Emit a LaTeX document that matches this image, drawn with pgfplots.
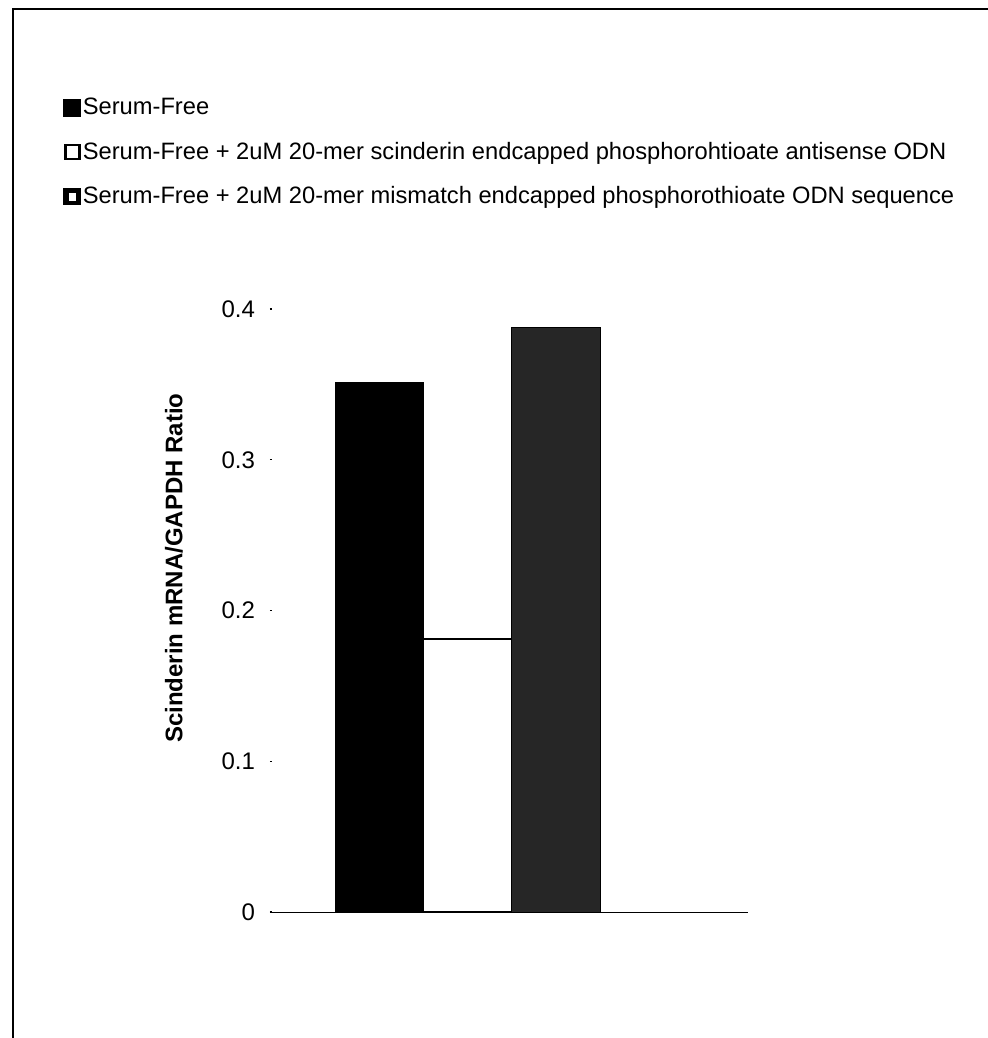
\documentclass[border=0pt]{standalone}
\usepackage{pgfplots}
\pgfplotsset{compat=1.18}
\usepackage{fontspec}
\setmainfont{Liberation Sans}
\begin{document}
\begin{tikzpicture}[x=1pt,y=1pt]
% page = 988 x 1038 px at 0.5pt/px; axis origin at pixel (270,912)
\path[use as bounding box] (-135,-63) rectangle (359,456);
\draw[line width=1.1pt] (-128.5,-63) -- (-128.5,451.5) -- (359,451.5);
\begin{axis}[
  at={(0,0)}, anchor=south west,
  scale only axis, width=239pt, height=301.5pt,
  xmin=-1.236, xmax=4.175,
  ymin=0, ymax=0.4,
  axis x line*=bottom, axis y line*=left,
  x axis line style={black, line width=0.5pt, -},
  y axis line style={draw=none},
  xtick=\empty,
  ytick={0,0.1,0.2,0.3,0.4},
  tick align=inside, major tick length=1.2pt,
  ytick style={black, line width=0.6pt},
  /pgf/number format/assume math mode=true,
  yticklabel style={font=\fontsize{12}{14}\selectfont, /pgf/number format/fixed, xshift=-4pt},
  ylabel={\bfseries Scinderin mRNA/GAPDH Ratio},
  ylabel style={at={(axis description cs:-0.201,0.570)}, anchor=center, font=\fontsize{12}{14}\selectfont},
  legend style={draw=none, fill=none, at={(axis description cs:-0.433,1.353)}, anchor=north west,
    font=\fontsize{11.85}{13.5}\selectfont, row sep=10.5pt, inner sep=0pt,
    nodes={inner sep=0.8pt}},
  legend cell align=left,
  clip=false,
]
\addplot[ybar, bar width=1, bar shift=0pt, fill=black, draw=black,
  legend image code/.code={\fill[black] (0pt,-4.2pt) rectangle (8.5pt,4.2pt);}]
  coordinates {(0,0.351)};
\addlegendentry{Serum-Free}
\addplot[ybar, bar width=1, bar shift=0pt, fill=white, draw=black, line width=0.9pt,
  legend image code/.code={\draw[black, fill=white, line width=1.4pt] (0.7pt,-3.5pt) rectangle (7.8pt,3.5pt);}]
  coordinates {(1,0.181)};
\addlegendentry{Serum-Free + 2uM 20-mer scinderin endcapped phosphorohtioate antisense ODN}
\addplot[ybar, bar width=1, bar shift=0pt, fill=black!85, draw=black,
  legend image code/.code={\fill[black] (0pt,-4.2pt) rectangle (8.5pt,4.2pt);
     \draw[white, line width=0.45pt] (2.8pt,-1.8pt) rectangle (5.8pt,1.6pt);}]
  coordinates {(2,0.388)};
\addlegendentry{Serum-Free + 2uM 20-mer mismatch endcapped phosphorothioate ODN sequence}
\end{axis}
\end{tikzpicture}
\end{document}
